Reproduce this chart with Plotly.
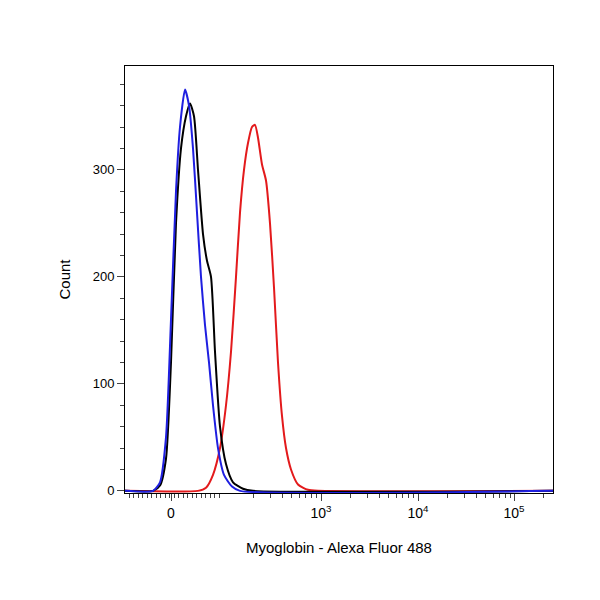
import numpy as np
import plotly.graph_objects as go

# x in display channel units of the biexponential scale
black_x = [117,145,152,158,163,168,173,178,182,186,190,195,199,203,207,212,218,225,235,245,545]
black_y = [0,0,5,30,120,250,320,350,362,350,300,240,215,200,130,60,25,8,2,0,0]
blue_x = [117,145,152,158,163,168,172,177,181,185,189,193,197,201,205,210,216,224,232,545]
blue_y = [0,0,8,50,160,280,340,375,360,320,260,200,155,120,80,40,15,4,0,0]
red_x = [117,190,198,205,212,218,223,228,232,236,240,244,247,250,254,258,262,266,270,274,278,283,290,300,310,545]
red_y = [0,0,3,15,40,80,130,200,260,300,325,340,342,330,305,290,250,190,120,70,40,20,6,1,0,0]

major_vals = [163,313,410,506]
major_text = ["0","10<sup>3</sup>","10<sup>4</sup>","10<sup>5</sup>"]
decade_px = 97
minor_vals = []
for base in [216,313,410,506]:
    for k in range(2,10):
        v = base + decade_px*np.log10(k)
        if v < 545: minor_vals.append(v)
minor_vals += list(np.arange(121,212,4.5))

fig = go.Figure()
for x,y,c in [(red_x,red_y,"#e31a1c"),(black_x,black_y,"black"),(blue_x,blue_y,"#1f1fe0")]:
    fig.add_trace(go.Scatter(x=x,y=y,mode="lines",line=dict(color=c,width=2,shape="spline",smoothing=0.6),showlegend=False))
fig.add_trace(go.Scatter(x=[None],y=[None],xaxis="x2",showlegend=False))
fig.update_layout(
    width=600,height=600,plot_bgcolor="white",paper_bgcolor="white",
    margin=dict(l=117,r=55,t=58,b=115),
    font=dict(family="Liberation Sans, Arial",size=13,color="black"),
    xaxis=dict(range=[117,545],tickvals=major_vals,ticktext=major_text,ticks="outside",ticklen=7,
               showline=True,linecolor="black",mirror=True,showgrid=False,zeroline=False,automargin=False,
               tickfont=dict(size=14),
               title=dict(text="Myoglobin - Alexa Fluor 488",font=dict(size=15),standoff=22)),
    xaxis2=dict(overlaying="x",range=[117,545],tickvals=minor_vals,ticktext=[""]*len(minor_vals),automargin=False,
                ticks="outside",ticklen=4,showgrid=False,zeroline=False,showline=False,side="bottom",anchor="y"),
    yaxis=dict(range=[-2,397],tickvals=[0,100,200,300],ticks="outside",ticklen=7,automargin=False,
               minor=dict(dtick=20,ticks="outside",ticklen=4,showgrid=False),
               showline=True,linecolor="black",mirror=True,showgrid=False,zeroline=False,
               title=dict(text="Count",font=dict(size=15),standoff=18)),
)
fig.write_html("out.html")
